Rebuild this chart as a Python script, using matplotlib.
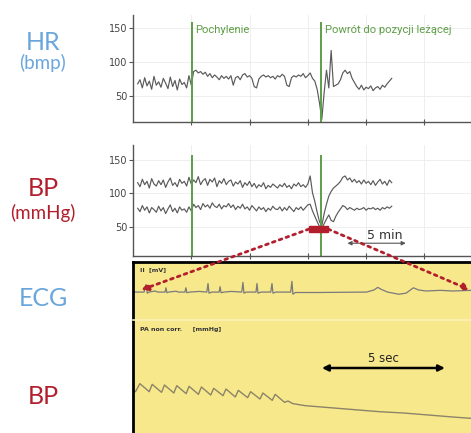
import numpy as np
import matplotlib.pyplot as plt
from matplotlib.patches import Rectangle, ConnectionPatch

W, H = 471, 433   # output size in pixels

# --- slow trends (time in minutes, one sample every 0.2 min from 0.4 min) ---
trend_t = 0.4 + 0.2 * np.arange(110)

hr = [68, 74, 62, 77, 65, 72, 60, 79, 66, 71, 63, 76, 69, 61, 78, 64, 73, 59, 75, 67, 70, 62, 80, 66,
      86, 88, 84, 86, 82, 85, 79, 83, 77, 81, 78, 74, 80, 76, 79,
      75, 80, 66, 77, 79, 74, 81, 83, 78, 80, 76, 64, 62, 75, 79,
      81, 78, 80, 77, 79, 75, 80, 78, 82, 79, 66, 64, 77, 80, 78,
      81, 79, 83, 77, 80, 84, 76,
      72, 60, 40, 16,
      55, 88, 62, 117,
      64, 66, 68, 74,
      84, 88, 83, 86, 76,
      70, 64, 60, 66, 59, 63, 61, 65, 58, 62, 64, 60, 66, 63, 68, 72, 76]

bp_sys = [116, 110, 121, 113, 118, 108, 122, 114, 111, 119,
          113, 120, 109, 117, 123, 112, 116, 110, 121, 115,
          118, 111, 124, 114, 120, 116, 125, 113, 119, 122,
          112, 121, 117, 123, 110, 119, 115, 122, 113, 118,
          120, 111, 117, 114, 119, 109, 116, 112, 118, 110,
          115, 108, 113, 110, 116, 107, 112, 109, 114, 111,
          108, 113, 110, 115, 109, 112, 107, 114, 111, 116,
          110, 113, 109, 114, 126, 101, 88, 72, 58, 52,
          70, 84, 96, 103, 108, 111, 114, 118, 124, 126,
          120, 123, 117, 121, 116, 119, 114, 120, 115, 118,
          113, 119, 112, 117, 121, 114, 118, 112, 120, 116]

bp_dia = [78, 73, 82, 75, 80, 71, 79, 76, 72, 81,
          74, 79, 70, 77, 83, 73, 78, 71, 80, 75,
          77, 72, 80, 74, 84, 79, 82, 76, 85, 80,
          83, 78, 86, 81, 79, 84, 77, 82, 80, 85,
          79, 83, 76, 81, 78, 84, 77, 80, 75, 82,
          78, 74, 80, 76, 79, 73, 78, 75, 81, 77,
          76, 80, 74, 79, 75, 81, 77, 73, 79, 76,
          80, 75, 79, 83, 84, 74, 66, 58, 51, 48,
          55, 62, 68, 60, 58, 66, 72, 77, 82, 80,
          76, 79, 77, 75, 78, 76, 77, 79, 75, 78,
          77, 79, 76, 78, 75, 79, 77, 80, 78, 81]

events_t = [5.05, 16.15]
events_lbl = ["Pochylenie", "Powrót do pozycji leżącej"]

# --- zoomed beat-to-beat window (time in seconds) ---
ecg_t = [0.0, 0.45, 0.53, 0.58, 0.65, 0.9, 1.0, 1.30, 1.34, 1.38, 1.45, 1.75, 1.85,
         2.11, 2.15, 2.19, 2.3, 2.7, 3.0, 3.05, 3.09, 3.2, 3.5, 3.54, 3.58, 3.7,
         4.0, 4.42, 4.47, 4.51, 4.6, 5.0, 5.04, 5.08, 5.2, 5.6, 5.65, 5.69, 5.8,
         6.41, 6.46, 6.50, 6.6, 7.5, 9.5, 9.8, 9.95, 10.1, 10.35, 10.8, 11.1,
         11.4, 11.6, 11.9, 12.5, 13.0, 13.74]
ecg_mv = [0.0, 0.0, 0.35, -0.05, 0.0, 0.05, 0.0, 0.0, 0.2, -0.03, 0.0, 0.04, 0.0,
          0.0, 0.2, -0.03, 0.0, 0.03, 0.0, 0.4, -0.05, 0.0, 0.0, 0.25, -0.03, 0.0,
          0.03, 0.0, 0.45, -0.05, 0.0, 0.0, 0.4, -0.05, 0.0, 0.0, 0.4, -0.05, 0.0,
          0.0, 0.5, -0.1, -0.02, -0.02, 0.0, 0.1, 0.22, 0.12, 0.0, -0.1, -0.05,
          0.2, 0.1, 0.05, 0.08, 0.05, 0.08]

pa_t = [0.0, 0.10, 0.28, 0.66, 0.78, 1.16, 1.28, 1.66, 1.78, 2.16, 2.28, 2.66,
        2.78, 3.16, 3.28, 3.66, 3.78, 4.16, 4.28, 4.66, 4.78, 5.16, 5.28, 5.66,
        5.78, 6.16, 6.30, 6.50, 7.0, 8.0, 9.0, 10.0, 11.0, 12.0, 13.0, 13.74]
pa_mmhg = [64, 62, 74, 62, 73, 61, 72, 60, 71, 59, 70, 58,
           69, 57, 67, 56, 66, 54, 64, 53, 62, 51, 60, 49,
           58, 46, 48, 44, 41, 38, 35, 32, 30, 27, 24, 22]

BLUE = "#6aa6dc"
RED = "#b31e2d"
GREEN = "#5e9e46"
YELLOW = "#f8e88c"
TRACE = "#5a5a5a"


def px_axes(fig, left, top, right, bottom):
    return fig.add_axes([left / W, 1 - bottom / H, (right - left) / W, (bottom - top) / H])


def trend_style(ax):
    for s in ("top", "right"):
        ax.spines[s].set_visible(False)
    for s in ("left", "bottom"):
        ax.spines[s].set_color("#555555")
        ax.spines[s].set_linewidth(1.0)
    ax.set_xlim(0, 29.0)
    ax.set_xticks([5, 10, 15, 20, 25])
    ax.set_xticklabels([])
    ax.set_yticks([50, 100, 150])
    ax.tick_params(axis="x", direction="inout", length=5, color="#555555")
    ax.tick_params(axis="y", direction="out", length=3, color="#555555",
                   labelsize=7, labelcolor="#444444", pad=1)
    ax.grid(True, color="#ebebeb", lw=0.6)
    ax.set_axisbelow(True)


fig = plt.figure(figsize=(W / 100, H / 100), dpi=100)

# ---- HR trend ----
ax_hr = px_axes(fig, 133, 15, 471, 122)
trend_style(ax_hr)
ax_hr.set_ylim(12, 169)
ax_hr.plot(trend_t, hr, color=TRACE, lw=0.85)
ax_hr.vlines(events_t, 12, 159, color=GREEN, lw=1.4)
for t, lbl in zip(events_t, events_lbl):
    ax_hr.text(t + 0.3, 147, lbl, color=GREEN, fontsize=8.1,
               family=["Roboto", "DejaVu Sans"], va="center")

# ---- BP trend ----
ax_bp = px_axes(fig, 133, 145, 471, 256)
trend_style(ax_bp)
ax_bp.set_ylim(7, 172)
ax_bp.plot(trend_t, bp_sys, color=TRACE, lw=0.85)
ax_bp.plot(trend_t, bp_dia, color=TRACE, lw=0.85)
ax_bp.vlines(events_t, 7, 157, color=GREEN, lw=1.4)
ax_bp.add_patch(Rectangle((15.1, 42.5), 1.64, 9, color=RED, zorder=5))
ax_bp.annotate("", xy=(23.4, 26), xytext=(18.4, 26),
               arrowprops=dict(arrowstyle="<|-|>", color="#555555", lw=0.8,
                               mutation_scale=6, shrinkA=0, shrinkB=0))
ax_bp.text(21.6, 37, "5 min", fontsize=9, color="#333333", ha="center", va="center")

# ---- zoomed window: ECG + PA ----
ax_ecg = px_axes(fig, 133, 262, 471, 320)
ax_pa = px_axes(fig, 133, 320, 471, 433)
for ax in (ax_ecg, ax_pa):
    ax.set_facecolor(YELLOW)
    ax.set_xlim(0, 13.74)
    ax.set_xticks([])
    ax.set_yticks([])
    for s in ax.spines.values():
        s.set_visible(False)
for ax, s in ((ax_ecg, "top"), (ax_ecg, "left"), (ax_pa, "left")):
    ax.spines[s].set_visible(True)
    ax.spines[s].set_color("black")
    ax.spines[s].set_linewidth(2)
ax_pa.spines["top"].set_visible(True)
ax_pa.spines["top"].set_color("#fbf0b8")
ax_pa.spines["top"].set_linewidth(1.2)

ax_ecg.set_ylim(-1.3, 1.4)
ax_ecg.plot(ecg_t, ecg_mv, color="#7a7a7a", lw=0.9)
ax_ecg.text(0.02, 0.86, "II  [mV]", transform=ax_ecg.transAxes, fontsize=4.5,
            fontweight="bold", color="#333333", va="center")

ax_pa.set_ylim(0, 169.5)
ax_pa.plot(pa_t, pa_mmhg, color="#8c8468", lw=1.0)
ax_pa.text(0.02, 0.92, "PA non corr.     [mmHg]", transform=ax_pa.transAxes,
           fontsize=4.5, fontweight="bold", color="#333333", va="center")
ax_pa.annotate("", xy=(12.68, 97.5), xytext=(7.68, 97.5),
               arrowprops=dict(arrowstyle="<|-|>", color="black", lw=1.8,
                               mutation_scale=9, shrinkA=0, shrinkB=0))
ax_pa.text(10.18, 111, "5 sec", fontsize=8.5, color="#222222", ha="center", va="center")

# dotted zoom arrows from the red marker to the window
for xa, xb in ((15.1, 0.33), (16.74, 13.7)):
    con = ConnectionPatch(xyA=(xa, 47), coordsA=ax_bp.transData,
                          xyB=(xb, 0.1), coordsB=ax_ecg.transData,
                          arrowstyle="-|>", mutation_scale=10, color=RED,
                          lw=2, linestyle=(0, (1, 1.6)), shrinkA=0, shrinkB=0, zorder=10)
    fig.add_artist(con)

# ---- channel labels ----
lab = dict(ha="center", va="center", family=["Lato", "DejaVu Sans"])
fig.text(43 / W, 1 - 42 / H, "HR", color=BLUE, fontsize=18, **lab)
fig.text(43 / W, 1 - 63 / H, "(bmp)", color=BLUE, fontsize=13.5, **lab)
fig.text(43 / W, 1 - 189 / H, "BP", color=RED, fontsize=18, **lab)
fig.text(43 / W, 1 - 213 / H, "(mmHg)", color=RED, fontsize=13.5, **lab)
fig.text(43 / W, 1 - 298 / H, "ECG", color=BLUE, fontsize=18, **lab)
fig.text(43 / W, 1 - 396 / H, "BP", color=RED, fontsize=18, **lab)

fig.savefig("out.png", dpi=100)
